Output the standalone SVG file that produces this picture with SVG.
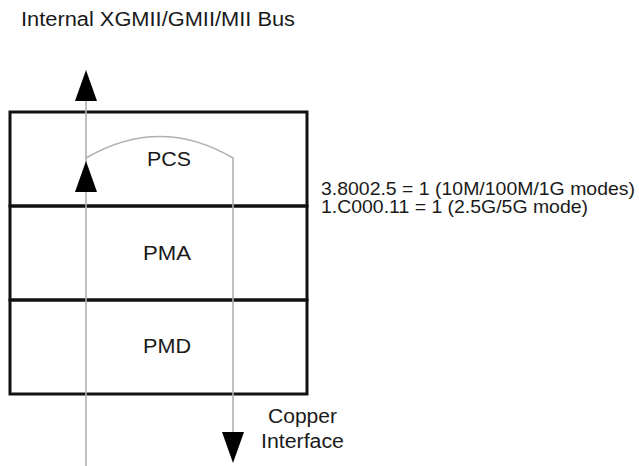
<svg xmlns="http://www.w3.org/2000/svg" width="639" height="466" viewBox="0 0 639 466">
<style>
.t{font-family:"Liberation Sans",Arial,sans-serif;font-size:19.5px;fill:#1a1a1a}
.n{font-size:18.5px}
.box{fill:none;stroke:#111;stroke-width:3}
.wire{fill:none;stroke:#b0b0b0;stroke-width:1.6}
.head{fill:#000}
</style>
<defs>
<path id="up" class="head" d="M0,0 L11,31 L-11,31 Z"/>
<path id="down" class="head" d="M0,0 L11,-31 L-11,-31 Z"/>
</defs>
<rect width="639" height="466" fill="#fff"/>
<text class="t" x="21" y="26" textLength="274" lengthAdjust="spacingAndGlyphs">Internal XGMII/GMII/MII Bus</text>
<g id="pcs">
<rect class="box" x="10" y="112" width="297" height="94"/>
<text class="t" x="147" y="166" textLength="44" lengthAdjust="spacingAndGlyphs">PCS</text>
</g>
<g id="pma">
<rect class="box" x="10" y="206" width="297" height="94"/>
<text class="t" x="143" y="260" textLength="48" lengthAdjust="spacingAndGlyphs">PMA</text>
</g>
<g id="pmd">
<rect class="box" x="10" y="300" width="297" height="94"/>
<text class="t" x="143" y="353" textLength="48" lengthAdjust="spacingAndGlyphs">PMD</text>
</g>
<g id="connectors">
<line class="wire" x1="86" y1="466" x2="86" y2="100"/>
<path class="wire" d="M86,158 Q160,115 233,158 L233,434"/>
<use href="#up" x="86" y="70"/>
<use href="#up" x="86" y="161"/>
<use href="#down" x="233" y="463"/>
</g>
<g id="notes">
<text class="t n" x="321" y="195" textLength="314" lengthAdjust="spacingAndGlyphs">3.8002.5 =  1 (10M/100M/1G modes)</text>
<text class="t n" x="321" y="212.5" textLength="267" lengthAdjust="spacingAndGlyphs">1.C000.11 = 1 (2.5G/5G mode)</text>
<text class="t" x="268" y="423" textLength="69" lengthAdjust="spacingAndGlyphs">Copper</text>
<text class="t" x="261" y="448" textLength="83" lengthAdjust="spacingAndGlyphs">Interface</text>
</g>
</svg>
